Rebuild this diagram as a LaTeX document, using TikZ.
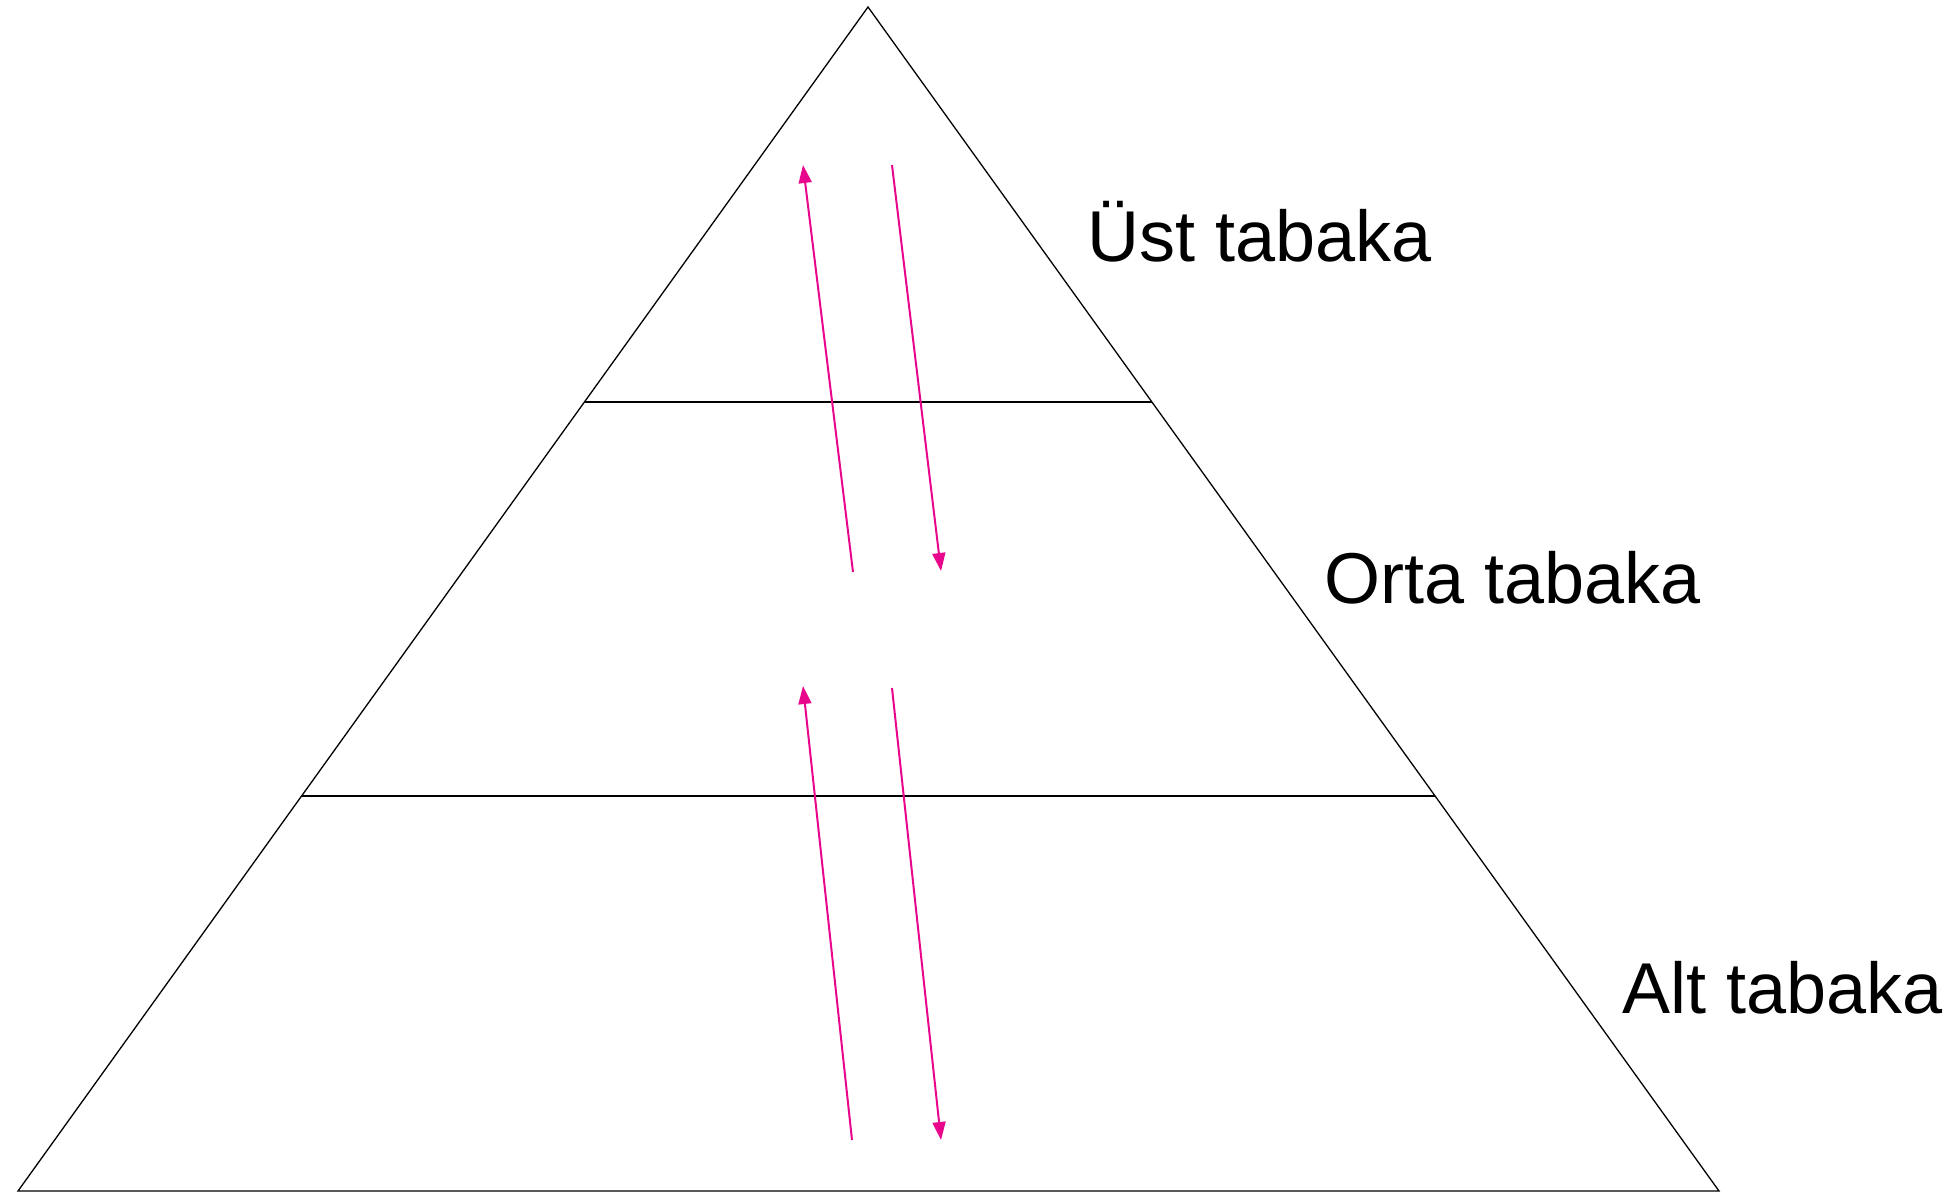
\documentclass[tikz,border=0pt]{standalone}
\usepackage{fontspec}
\setmainfont{Liberation Sans}
\usetikzlibrary{arrows.meta}
\definecolor{arrowpink}{HTML}{E8078C}
\tikzset{
  edge/.style={draw=black, line width=1.3pt, line join=miter},
  flow/.style={draw=arrowpink, line width=2pt, -{Triangle[length=18pt,width=13pt]}},
  layerlabel/.style={anchor=base west, inner sep=0pt, font=\fontsize{72}{86}\selectfont}
}
\begin{document}
\begin{tikzpicture}[x=1pt,y=-1pt]
\useasboundingbox (0,0) rectangle (1953,1194);
% pyramid
\coordinate (apex) at (868,7);
\coordinate (bl) at (18,1191);
\coordinate (br) at (1719,1191);
\draw[edge] (apex) -- (bl) -- (br) -- cycle;
\coordinate (l1a) at (584.4,402);
\coordinate (l1b) at (1152.1,402);
\coordinate (l2a) at (301.6,796);
\coordinate (l2b) at (1435.0,796);
\draw[edge] (l1a) -- (l1b);
\draw[edge] (l2a) -- (l2b);
% arrows
\coordinate (u1s) at (853,572);
\coordinate (u1e) at (803,165);
\coordinate (d1s) at (892,165);
\coordinate (d1e) at (941,571);
\coordinate (u2s) at (852,1140);
\coordinate (u2e) at (803,686);
\coordinate (d2s) at (892,688);
\coordinate (d2e) at (941,1140);
\draw[flow] (u1s) -- (u1e);
\draw[flow] (d1s) -- (d1e);
\draw[flow] (u2s) -- (u2e);
\draw[flow] (d2s) -- (d2e);
% labels
\node[layerlabel] (ust) at (1087,261) {Üst tabaka};
\node[layerlabel] (orta) at (1324,603) {Orta tabaka};
\node[layerlabel] (alt) at (1622,1013) {Alt tabaka};
\end{tikzpicture}
\end{document}
